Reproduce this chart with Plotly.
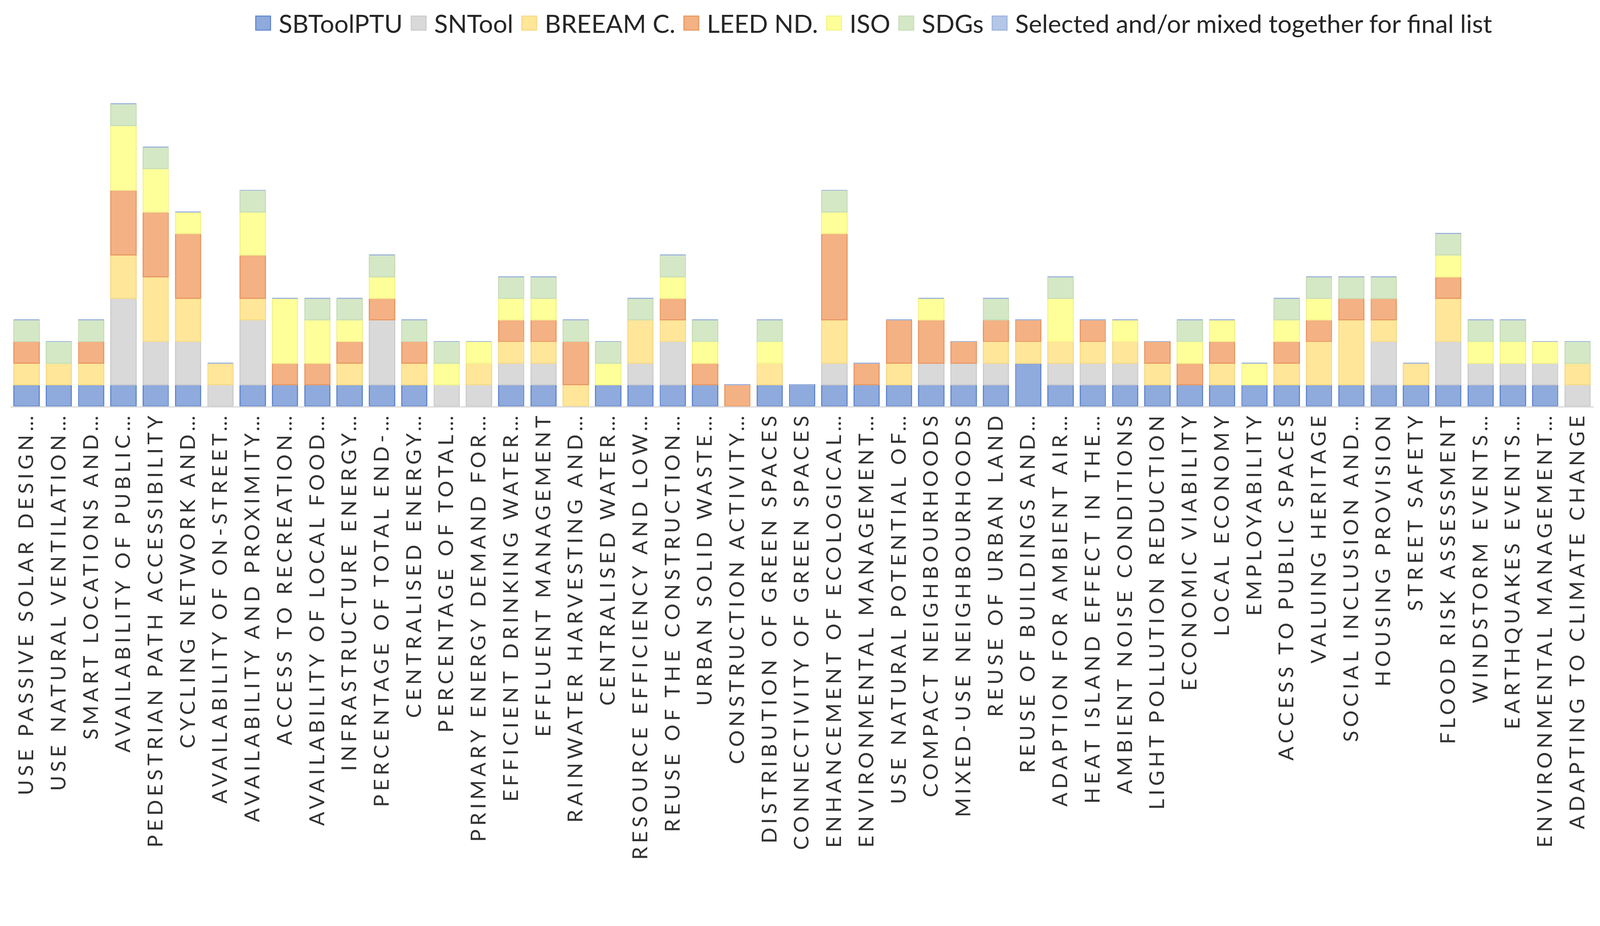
import plotly.graph_objects as go

labels = [
    "USE PASSIVE SOLAR DESIGN…", "USE NATURAL VENTILATION…", "SMART LOCATIONS AND…",
    "AVAILABILITY OF PUBLIC…", "PEDESTRIAN PATH ACCESSIBILITY", "CYCLING NETWORK AND…",
    "AVAILABILITY OF ON-STREET…", "AVAILABILITY AND PROXIMITY…", "ACCESS TO RECREATION…",
    "AVAILABILITY OF LOCAL FOOD…", "INFRASTRUCTURE ENERGY…", "PERCENTAGE OF TOTAL END-…",
    "CENTRALISED ENERGY…", "PERCENTAGE OF TOTAL…", "PRIMARY ENERGY DEMAND FOR…",
    "EFFICIENT DRINKING WATER…", "EFFLUENT MANAGEMENT", "RAINWATER HARVESTING AND…",
    "CENTRALISED WATER…", "RESOURCE EFFICIENCY AND LOW…", "REUSE OF THE CONSTRUCTION…",
    "URBAN SOLID WASTE…", "CONSTRUCTION ACTIVITY…", "DISTRIBUTION OF GREEN SPACES",
    "CONNECTIVITY OF GREEN SPACES", "ENHANCEMENT OF ECOLOGICAL…", "ENVIRONMENTAL MANAGEMENT…",
    "USE NATURAL POTENTIAL OF…", "COMPACT NEIGHBOURHOODS", "MIXED-USE NEIGHBOURHOODS",
    "REUSE OF URBAN LAND", "REUSE OF BUILDINGS AND…", "ADAPTION FOR AMBIENT AIR…",
    "HEAT ISLAND EFFECT IN THE…", "AMBIENT NOISE CONDITIONS", "LIGHT POLLUTION REDUCTION",
    "ECONOMIC VIABILITY", "LOCAL ECONOMY", "EMPLOYABILITY",
    "ACCESS TO PUBLIC SPACES", "VALUING HERITAGE", "SOCIAL INCLUSION AND…",
    "HOUSING PROVISION", "STREET SAFETY", "FLOOD RISK ASSESSMENT",
    "WINDSTORM EVENTS…", "EARTHQUAKES EVENTS…", "ENVIRONMENTAL MANAGEMENT…",
    "ADAPTING TO CLIMATE CHANGE",
]

sbtoolptu = [1, 1, 1, 1, 1, 1, 0, 1, 1, 1, 1, 1, 1, 0, 0, 1, 1, 0, 1, 1, 1, 1, 0, 1, 1,
             1, 1, 1, 1, 1, 1, 2, 1, 1, 1, 1, 1, 1, 1, 1, 1, 1, 1, 1, 1, 1, 1, 1, 0]
sntool    = [0, 0, 0, 4, 2, 2, 1, 3, 0, 0, 0, 3, 0, 1, 1, 1, 1, 0, 0, 1, 2, 0, 0, 0, 0,
             1, 0, 0, 1, 1, 1, 0, 1, 1, 1, 0, 0, 0, 0, 0, 0, 0, 2, 0, 2, 1, 1, 1, 1]
breeam    = [1, 1, 1, 2, 3, 2, 1, 1, 0, 0, 1, 0, 1, 0, 1, 1, 1, 1, 0, 2, 1, 0, 0, 1, 0,
             2, 0, 1, 0, 0, 1, 1, 1, 1, 1, 1, 0, 1, 0, 1, 2, 3, 1, 1, 2, 0, 0, 0, 1]
leed      = [1, 0, 1, 3, 3, 3, 0, 2, 1, 1, 1, 1, 1, 0, 0, 1, 1, 2, 0, 0, 1, 1, 1, 0, 0,
             4, 1, 2, 2, 1, 1, 1, 0, 1, 0, 1, 1, 1, 0, 1, 1, 1, 1, 0, 1, 0, 0, 0, 0]
iso       = [0, 0, 0, 3, 2, 1, 0, 2, 3, 2, 1, 1, 0, 1, 1, 1, 1, 0, 1, 0, 1, 1, 0, 1, 0,
             1, 0, 0, 1, 0, 0, 0, 2, 0, 1, 0, 1, 1, 1, 1, 1, 0, 0, 0, 1, 1, 1, 1, 0]
sdgs      = [1, 1, 1, 1, 1, 0, 0, 1, 0, 1, 1, 1, 1, 1, 0, 1, 1, 1, 1, 1, 1, 1, 0, 1, 0,
             1, 0, 0, 0, 0, 1, 0, 1, 0, 0, 0, 1, 0, 0, 1, 1, 1, 1, 0, 1, 1, 1, 0, 1]
selected  = [0] * 49

series_names = ["SBToolPTU", "SNTool", "BREEAM C.", "LEED ND.", "ISO", "SDGs",
                "Selected and/or mixed together for final list"]
series_values = [sbtoolptu, sntool, breeam, leed, iso, sdgs, selected]
fill_colors = ["#8FAADC", "#D9D9D9", "#FFE699", "#F4B183", "#FFFF99", "#D4E8C6", "#B4C7E7"]
line_colors = ["#6489CF", "#CDCDCD", "#F7DB88", "#E99A66", "#F4F48C", "#C8DFB8", "#9FB5DD"]

x = list(range(len(labels)))

fig = go.Figure()
for name, vals, fc, lc in zip(series_names, series_values, fill_colors, line_colors):
    fig.add_trace(go.Bar(
        x=x, y=vals, name=name,
        marker=dict(color=fc, line=dict(color=lc, width=3)),
    ))

fig.update_layout(
    width=4325, height=2370,
    barmode="stack", bargap=0.22,
    paper_bgcolor="white", plot_bgcolor="white",
    margin=dict(l=28, r=17, t=149, b=1272),
    font=dict(family="Lato, Calibri, sans-serif", color="#333333"),
    legend=dict(
        orientation="h", x=0.544, xanchor="center", y=1.1085, yanchor="middle",
        font=dict(size=68, family="Lato, sans-serif", color="#262626"),
        itemwidth=70, traceorder="normal", bgcolor="rgba(0,0,0,0)",
    ),
    xaxis=dict(
        range=[-0.5, len(labels) - 0.5],
        tickmode="array", tickvals=x, ticktext=labels,
        tickangle=-90, ticks="", showgrid=False, zeroline=False,
        showline=True, linecolor="#D9D9D9", linewidth=3,
        tickfont=dict(size=56, family="Lato, sans-serif", color="#333333"),
        ticklabelstandoff=-10,
    ),
    yaxis=dict(range=[0, 16], visible=False, showgrid=False, zeroline=False),
)

post = """
var gd = document.getElementById('{plot_id}');
document.documentElement.style.margin = '0';
document.body.style.margin = '0';
document.body.style.overflow = 'hidden';
gd.querySelectorAll('.xtick text').forEach(function(t){ t.style.letterSpacing = '10px'; });
gd.querySelectorAll('.legend .traces').forEach(function(g){
  var t = g.querySelector('.legendtext');
  var p = g.querySelector('.legendpoints path');
  if (!t || !p) return;
  var tx = parseFloat(t.getAttribute('x')) || 0;
  var off = p.getCTM().e - t.getCTM().e;
  var R = tx - 22 - off;
  p.setAttribute('d', 'M' + R + ',19H' + (R - 40) + 'V-19H' + R + 'Z');
});
var s = Math.min(window.innerWidth / 4325, window.innerHeight / 2370);
if (s > 0 && Math.abs(s - 1) > 0.001) { document.body.style.zoom = s; }
"""

fig.write_html("out.html", post_script=post, config={"displayModeBar": False})
